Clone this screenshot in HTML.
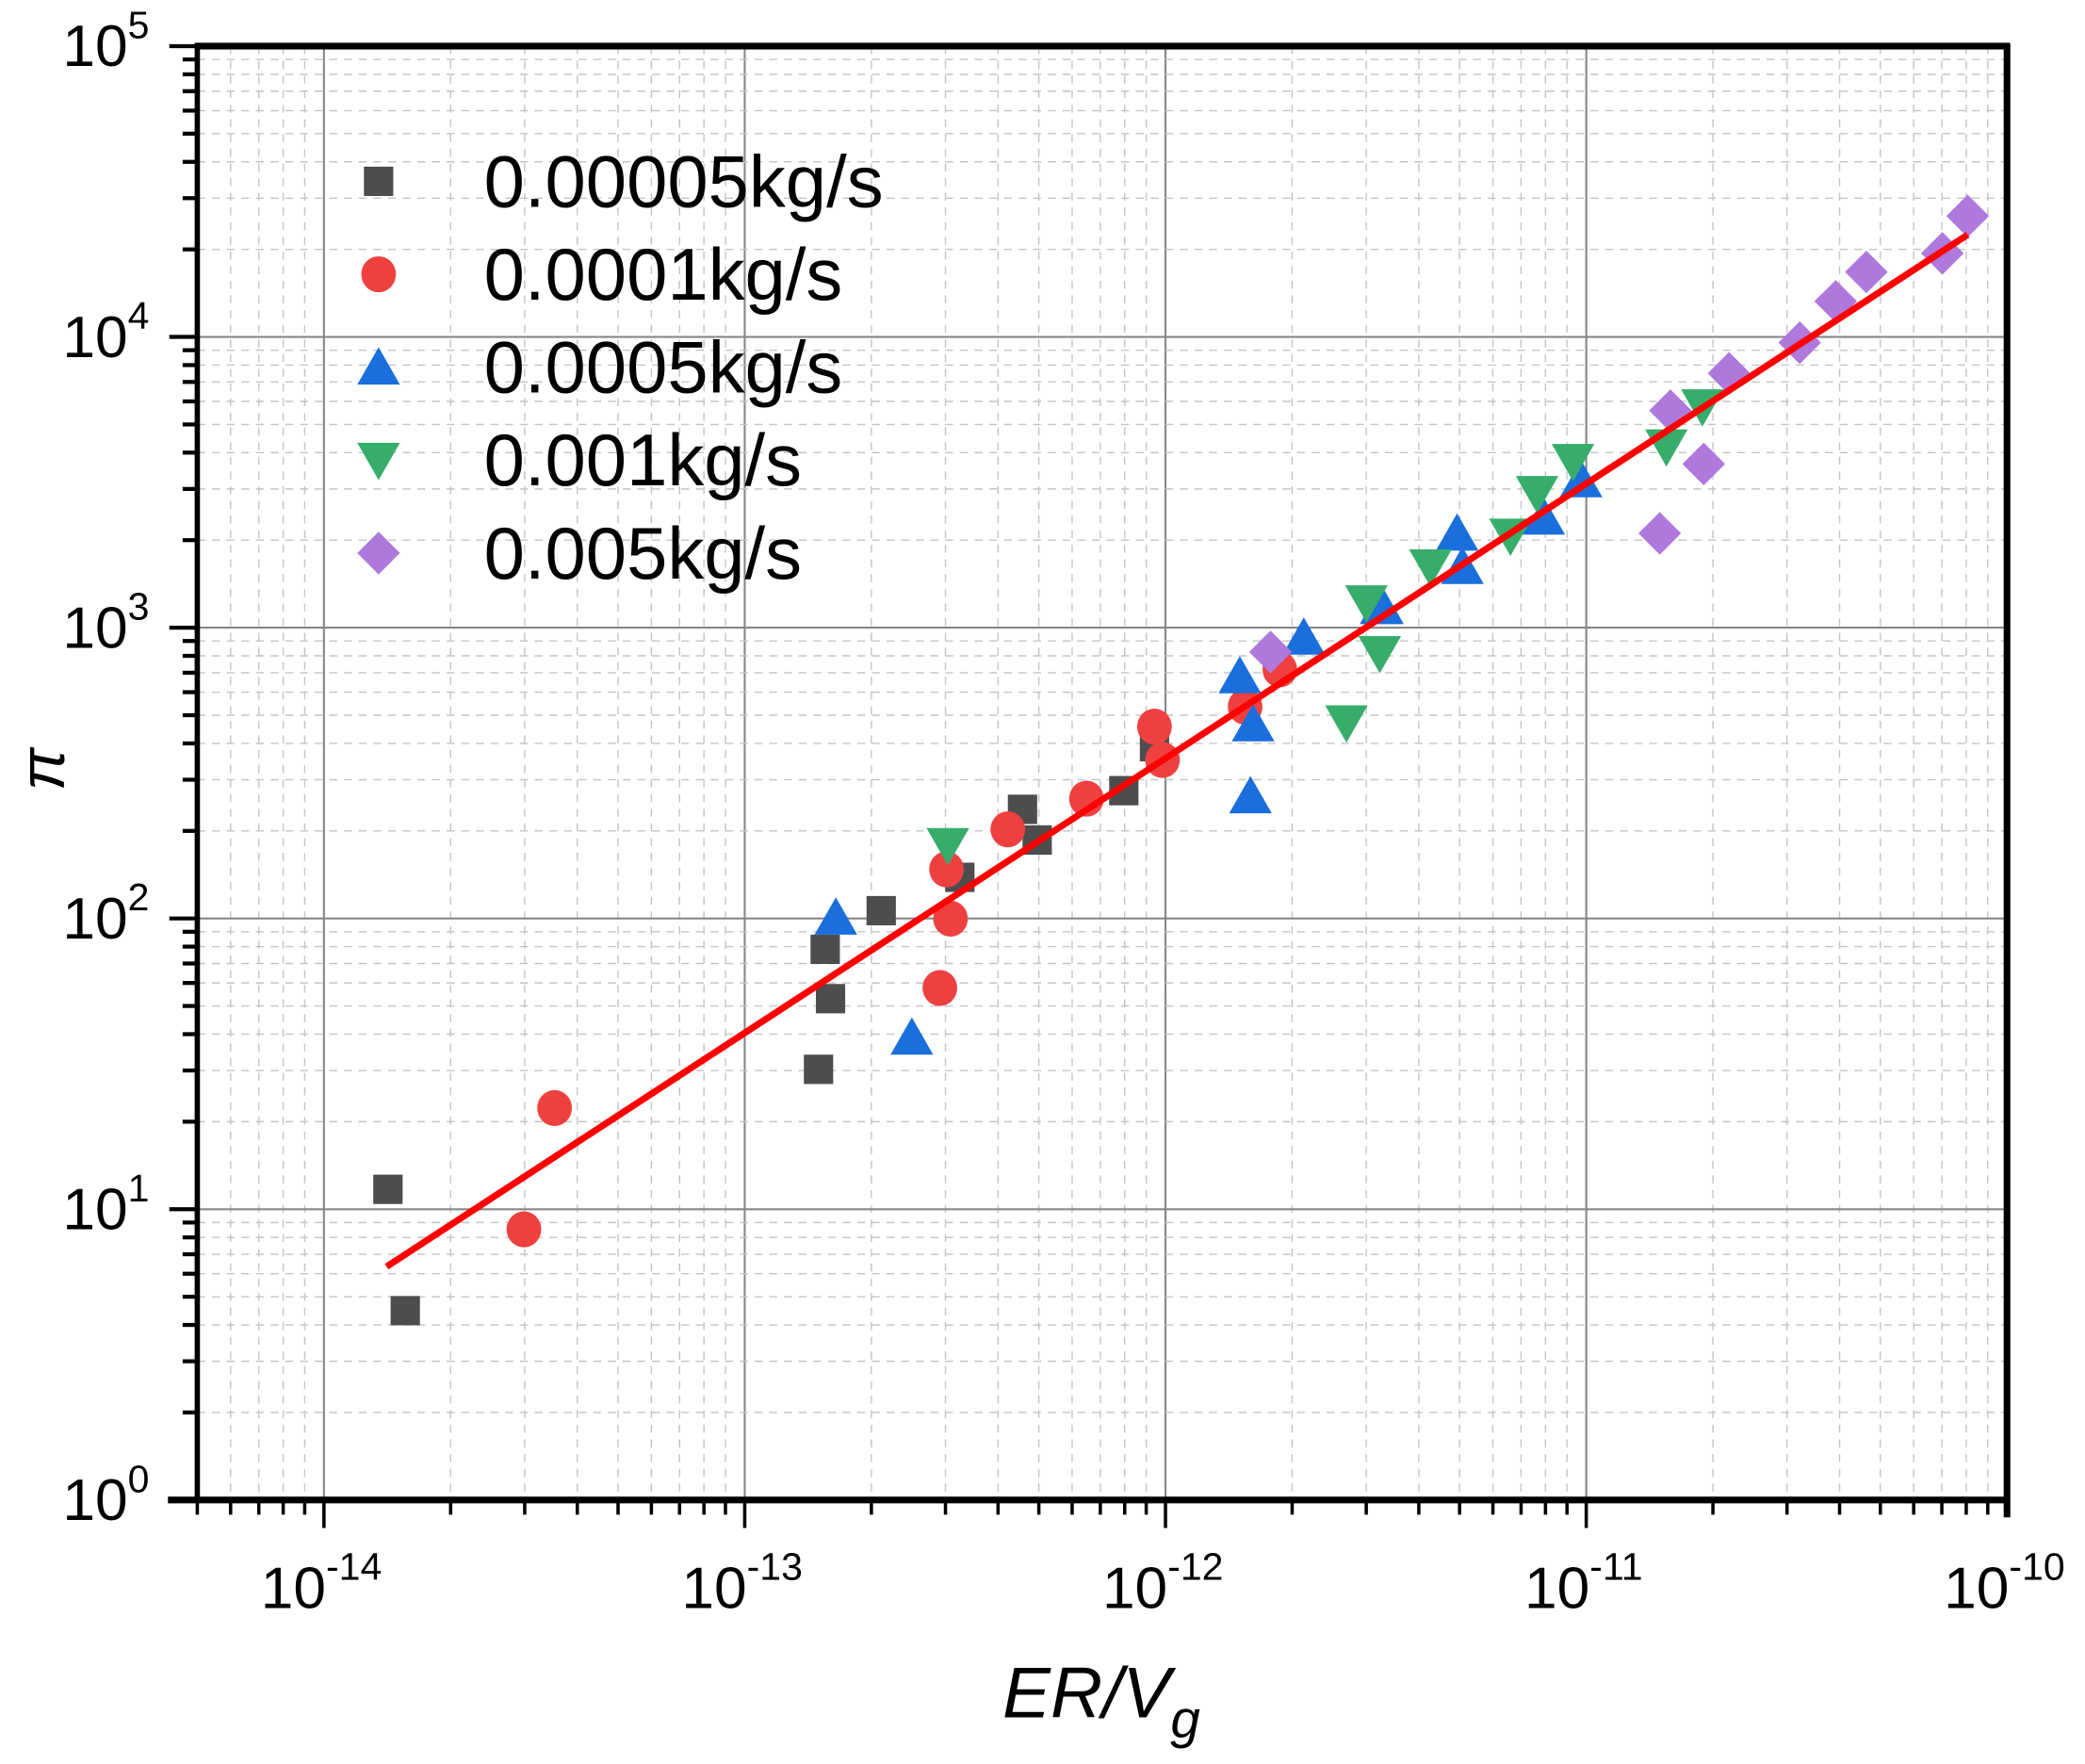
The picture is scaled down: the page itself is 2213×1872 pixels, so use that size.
<!DOCTYPE html>
<html><head><meta charset="utf-8"><style>html,body{margin:0;padding:0;background:#fff}svg{display:block}</style></head>
<body>
<svg id="s" xmlns="http://www.w3.org/2000/svg" width="2213" height="1872" viewBox="0 0 1564 1323" font-family="Liberation Sans, Arial, sans-serif">
<rect width="1564" height="1323" fill="#fff"/>
<g id="grid"></g>
<g id="data"></g>
<g id="axes"></g>
<g id="labels"></g>
</svg>
<script>
const NS="http://www.w3.org/2000/svg";
const L=148,R=1505.5,T=34.6,B=1125;
const dx=(R-L)/(4+Math.log10(2));
const xmin=-14-Math.log10(2);
const X=v=>L+(Math.log10(v)-xmin)*dx;
const Y=v=>B-Math.log10(v)*(B-T)/5;
function el(p,tag,a,txt){const e=document.createElementNS(NS,tag);for(const k in a)e.setAttribute(k,a[k]);if(txt!==undefined)e.textContent=txt;p.appendChild(e);return e;}
const g=document.getElementById('grid'),ax=document.getElementById('axes'),lb=document.getElementById('labels'),d=document.getElementById('data');
for(let e=-15;e<=-11;e++)for(let m=1;m<=9;m++){const v=m*Math.pow(10,e);const x=X(v);if(x<L-0.5||x>R+0.5)continue;
 if(m==1){el(g,'line',{x1:x,y1:T,x2:x,y2:B,stroke:'#878787','stroke-width':1.5});el(ax,'line',{x1:x,y1:B,x2:x,y2:B+21,stroke:'#000','stroke-width':2.5});}
 else{el(g,'line',{x1:x,y1:T,x2:x,y2:B,stroke:'#c4c4c4','stroke-width':1,'stroke-dasharray':'6,5'});el(ax,'line',{x1:x,y1:B,x2:x,y2:B+11,stroke:'#000','stroke-width':2.5});}}
for(let e=0;e<=5;e++)for(let m=1;m<=9;m++){if(e==5&&m>1)break;const y=Y(m*Math.pow(10,e));
 if(m==1){el(g,'line',{x1:L,y1:y,x2:R,y2:y,stroke:'#878787','stroke-width':1.5});el(ax,'line',{x1:L-21,y1:y,x2:L,y2:y,stroke:'#000','stroke-width':3});}
 else{el(g,'line',{x1:L,y1:y,x2:R,y2:y,stroke:'#c4c4c4','stroke-width':1,'stroke-dasharray':'6,5'});el(ax,'line',{x1:L-11,y1:y,x2:L,y2:y,stroke:'#000','stroke-width':3});}}
el(ax,'line',{x1:126,y1:B,x2:R+2,y2:B,stroke:'#000','stroke-width':5});
el(ax,'line',{x1:L,y1:T-2,x2:L,y2:B,stroke:'#000','stroke-width':4});
el(ax,'line',{x1:L-2,y1:T,x2:R+2,y2:T,stroke:'#000','stroke-width':5});
el(ax,'line',{x1:R,y1:T-2,x2:R,y2:B+13,stroke:'#000','stroke-width':5});
[-14,-13,-12,-11,-10].forEach(e=>{const x=X(Math.pow(10,e));const t=el(lb,'text',{x:x-2,y:1206,'font-size':44,'text-anchor':'middle'});
 t.appendChild(document.createTextNode('10'));el(t,'tspan',{dy:-21,'font-size':29},''+e);});
for(let e=0;e<=5;e++){const y=Y(Math.pow(10,e));const t=el(lb,'text',{x:112,y:y+15,'font-size':44,'text-anchor':'end'});
 t.appendChild(document.createTextNode('10'));el(t,'tspan',{dy:-21,'font-size':29},''+e);}
const tt=el(lb,'text',{x:752,y:1288,'font-size':54,'font-style':'italic'},'ER/V');
el(tt,'tspan',{dy:15,'font-size':40},'g');
el(lb,'text',{x:0,y:0,'font-size':48,'font-style':'italic',transform:'translate(48,577) rotate(-90)','text-anchor':'middle'},'π');
function mk(p,type,x,y){
 if(type=='s')el(p,'rect',{x:x-11,y:y-11,width:22,height:22,fill:'#4d4d4d'});
 else if(type=='c')el(p,'ellipse',{cx:x,cy:y,rx:13,ry:13.5,fill:'#ef4040'});
 else if(type=='u')el(p,'polygon',{points:`${x},${y-15} ${x+16},${y+13} ${x-16},${y+13}`,fill:'#1a6fdd'});
 else if(type=='d')el(p,'polygon',{points:`${x},${y+15} ${x+16},${y-13} ${x-16},${y-13}`,fill:'#37ad6b'});
 else if(type=='p')el(p,'polygon',{points:`${x},${y-16} ${x+16},${y} ${x},${y+16} ${x-16},${y}`,fill:'#af78dc'});
}
const S={
s:[[291,892],[304,983],[614,802],[619,712],[623,749],[661,683],[720,658],[767,607],[778,630],[843,593],[866,560]],
c:[[393,922],[416,831],[705,741],[713,689],[710,652],[756,622],[815,599],[866,545],[872,570],[934,530],[960,502]],
u:[[627,688],[684,778],[930,507],[938,597],[940,543],[978,478],[1037,455],[1093,400],[1097,425],[1158,388],[1186,360],[1036,455]],
d:[[711,634],[1010,542],[1025,452],[1035,490],[1073,425],[1133,402],[1153,370],[1180,346],[1250,335],[1277,305]],
p:[[953,489],[1245,400],[1253,308],[1278,348],[1297,280],[1350,257],[1377,226],[1400,204],[1457,190],[1476,162]]};
['s','c','u','d','p'].forEach(k=>S[k].forEach(q=>mk(d,k,q[0],q[1])));
el(d,'line',{x1:290,y1:950,x2:1476,y2:176,stroke:'#ff0000','stroke-width':5});
const names=['0.00005kg/s','0.0001kg/s','0.0005kg/s','0.001kg/s','0.005kg/s'];
['s','c','u','d','p'].forEach((k,i)=>{const y=136+i*69.7;mk(lb,k,284,y);el(lb,'text',{x:363,y:y+19,'font-size':55},names[i]);});
</script>
</body></html>
